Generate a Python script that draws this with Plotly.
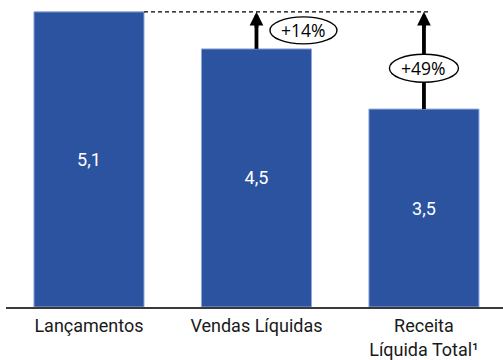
import plotly.graph_objects as go

categories = ["Lançamentos", "Vendas Líquidas", "Receita<br>Líquida Total¹"]
values = [5.1, 4.46, 3.42]
value_labels = ["5,1", "4,5", "3,5"]
growth_labels = ["+14%", "+49%"]

x = list(range(len(categories)))
BAR_W = 0.657
BLUE = "#2B53A0"

fig = go.Figure(
    go.Bar(
        x=x, y=values, width=BAR_W,
        text=value_labels, textposition="inside", insidetextanchor="middle",
        textangle=0, constraintext="none",
        textfont=dict(family="Roboto", size=18, color="white"),
        marker=dict(color=BLUE, line=dict(color="#8EA8DA", width=1)),
        hoverinfo="skip",
    )
)

shapes = []
annotations = []
# dashed reference line at the top of the first bar
shapes.append(dict(type="line", xref="x", yref="y",
                   x0=x[0] + BAR_W / 2, x1=x[2] + 0.04,
                   y0=values[0], y1=values[0],
                   line=dict(color="black", width=1.3, dash="4px,3px")))

# arrow shafts
for i in (1, 2):
    shapes.append(dict(type="line", xref="x", yref="y",
                       x0=x[i], x1=x[i], y0=values[i], y1=values[0] - 0.12,
                       line=dict(color="black", width=3.8)))
    annotations.append(dict(x=x[i], y=values[0], ax=x[i], ay=values[0] - 0.3,
                            xref="x", yref="y", axref="x", ayref="y",
                            text="", showarrow=True, arrowhead=2,
                            arrowwidth=3.8, arrowsize=0.72, arrowcolor="black",
                            standoff=0, startstandoff=0))

# ellipses with growth labels
ell = [
    dict(xa=x[1], ya=(values[0] + values[1]) / 2, dx=47, w=67, h=27),
    dict(xa=x[2], ya=values[2] + 0.42 * (values[0] - values[2]), dx=0, w=69, h=28),
]
for e, lab in zip(ell, growth_labels):
    shapes.append(dict(type="circle", xref="x", yref="y",
                       xsizemode="pixel", ysizemode="pixel",
                       xanchor=e["xa"], yanchor=e["ya"],
                       x0=e["dx"] - e["w"] / 2, x1=e["dx"] + e["w"] / 2,
                       y0=-e["h"] / 2, y1=e["h"] / 2,
                       fillcolor="white", line=dict(color="black", width=1.4)))
    annotations.append(dict(x=e["xa"], y=e["ya"], xref="x", yref="y",
                            xshift=e["dx"], text=lab, showarrow=False,
                            font=dict(family="Open Sans", size=17.5, color="black")))

fig.update_layout(
    width=503, height=360,
    margin=dict(l=6, r=0, t=0, b=50),
    paper_bgcolor="white", plot_bgcolor="white",
    showlegend=False,
    shapes=shapes, annotations=annotations,
    xaxis=dict(range=[-0.4955, 2.472], tickvals=x, ticktext=categories,
               showline=True, linecolor="#3a3a3a", linewidth=1.5,
               showgrid=False, zeroline=False, ticks="",
               ticklabelstandoff=2,
               tickfont=dict(family="Roboto", size=18, color="#1a1a1a"),
               fixedrange=True),
    yaxis=dict(range=[0, 5.305], visible=False, fixedrange=True),
)

fig.write_html("out.html")
